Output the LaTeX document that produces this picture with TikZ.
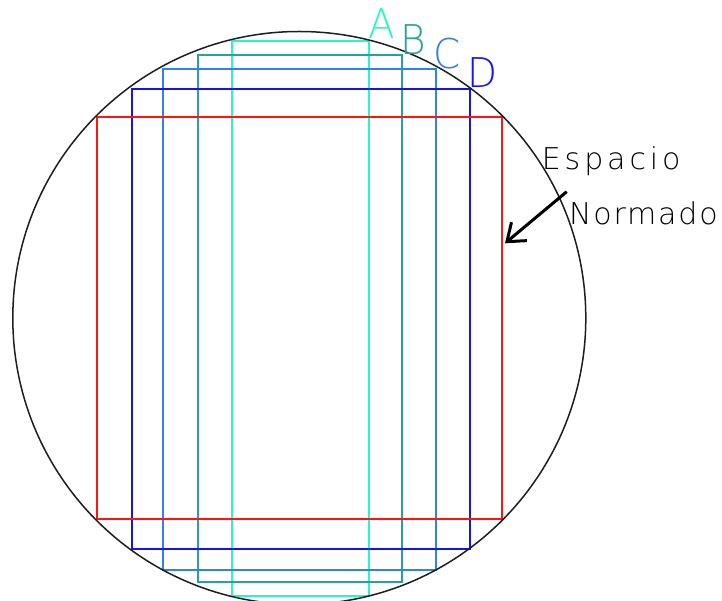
\documentclass[tikz,border=0pt]{standalone}
\usepackage{fontspec}
\newfontfamily\cadfont[FakeStretch=0.95]{DejaVu Sans ExtraLight}
\newfontfamily\cadtextE[LetterSpace=13]{DejaVu Sans ExtraLight}
\newfontfamily\cadtextN[LetterSpace=6]{DejaVu Sans ExtraLight}
\usetikzlibrary{arrows.meta}
\definecolor{colA}{RGB}{40,245,200}
\definecolor{colB}{RGB}{40,160,160}
\definecolor{colC}{RGB}{50,130,230}
\definecolor{colD}{RGB}{20,20,240}
\definecolor{colR}{RGB}{255,20,20}
\definecolor{colK}{RGB}{30,30,30}
\begin{document}
\begin{tikzpicture}[x=1pt,y=-1pt,
  rect/.style={line width=2pt},
  lab/.style={inner sep=0pt, anchor=base west, font=\cadfont\fontsize{41}{41}\selectfont},
  note/.style={inner sep=0pt, anchor=base west}]
\useasboundingbox (0,0) rectangle (722,601);
\clip (0,0) rectangle (722,601);
% rectangles
\draw[rect,colA] (232,41) rectangle (369,596);
\draw[rect,colB] (198,55) rectangle (402,582);
\draw[rect,colC] (163,69) rectangle (436,570);
\draw[rect,colD] (132,89) rectangle (470,549);
\draw[rect,colR] (97,117) rectangle (502,519);
% circle
\coordinate (ctr) at (299.3,318);
\draw[colK, line width=1.5pt] (ctr) circle [radius=286.5];
% labels
\node[lab,text=colA] (labA) at (368.5,38.5) {A};
\node[lab,text=colB] (labB) at (400.5,54.3) {B};
\node[lab,text=colC] (labC) at (433,68.3) {C};
\node[lab,text=colD] (labD) at (467.5,87.7) {D};
\node[note,font=\cadtextE\fontsize{30}{30}\selectfont] (esp) at (541.7,170) {Espacio};
\node[note,font=\cadtextN\fontsize{30}{30}\selectfont] (nor) at (569,225) {Normado};
% arrow
\coordinate (arrS) at (566.7,191.7);
\coordinate (arrT) at (505,243.3);
\draw[line width=3pt, -{Straight Barb[length=16pt,width=24pt,line width=3pt]}] (arrS) -- (arrT);
\end{tikzpicture}
\end{document}
